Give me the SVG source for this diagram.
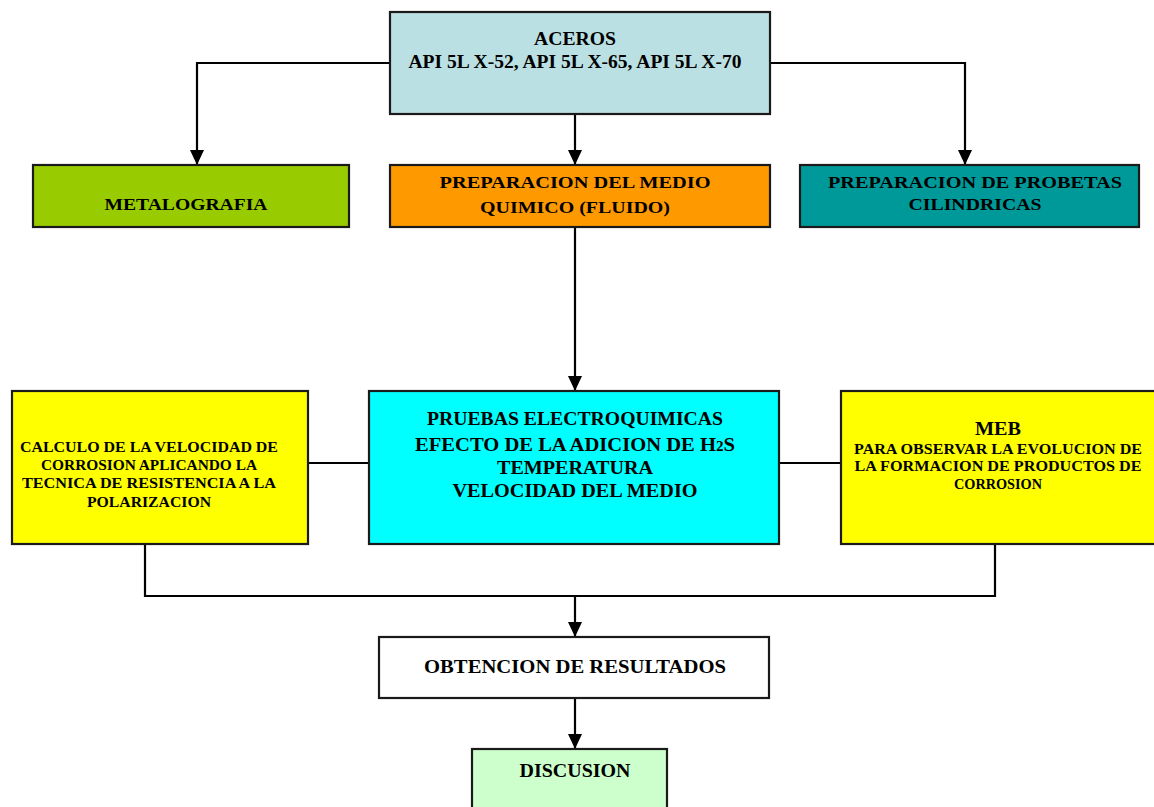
<svg xmlns="http://www.w3.org/2000/svg" width="1154" height="807" viewBox="0 0 1154 807">
<defs>
<marker id="arr" viewBox="0 0 15 14" refX="15" refY="7" markerWidth="15" markerHeight="14" markerUnits="userSpaceOnUse" orient="auto">
<path d="M0,0 L15,7 L0,14 Z" fill="#000"/>
</marker>
<style>
.box{stroke:#1a1a1a;stroke-width:2.2}
.t{font-family:"Liberation Serif","Times New Roman",serif;font-weight:bold;fill:#000;text-anchor:middle}
.ln{fill:none;stroke:#000;stroke-width:2.2}
</style>
</defs>
<rect width="1154" height="807" fill="#fff"/>
<g id="connectors">
<path class="ln" d="M390,63 H197 V165" marker-end="url(#arr)"/>
<path class="ln" d="M770,63 H965 V165" marker-end="url(#arr)"/>
<path class="ln" d="M575,114 V165" marker-end="url(#arr)"/>
<path class="ln" d="M575,227 V391" marker-end="url(#arr)"/>
<path class="ln" d="M308,463 H369"/>
<path class="ln" d="M779,463 H841"/>
<path class="ln" d="M145,544 V596 H995 V544"/>
<path class="ln" d="M575,596 V637" marker-end="url(#arr)"/>
<path class="ln" d="M575,698 V749" marker-end="url(#arr)"/>
</g>
<g id="aceros">
<rect class="box" x="390" y="12" width="380" height="102" fill="#BBE0E3"/>
<text class="t" x="575" y="45" font-size="19" textLength="82" lengthAdjust="spacingAndGlyphs">ACEROS</text>
<text class="t" x="575" y="68" font-size="19" textLength="333" lengthAdjust="spacingAndGlyphs">API 5L X-52, API 5L X-65, API 5L X-70</text>
</g>
<g id="metalografia">
<rect class="box" x="33" y="165" width="316" height="62" fill="#99CC00"/>
<text class="t" x="186" y="210" font-size="17.5" textLength="163" lengthAdjust="spacingAndGlyphs">METALOGRAFIA</text>
</g>
<g id="medio">
<rect class="box" x="390" y="165" width="380" height="62" fill="#FF9900"/>
<text class="t" x="575" y="188" font-size="17.5" textLength="271" lengthAdjust="spacingAndGlyphs">PREPARACION DEL MEDIO</text>
<text class="t" x="575" y="213" font-size="17.5" textLength="190" lengthAdjust="spacingAndGlyphs">QUIMICO (FLUIDO)</text>
</g>
<g id="probetas">
<rect class="box" x="800" y="165" width="339" height="62" fill="#009999"/>
<text class="t" x="975" y="188" font-size="17.5" textLength="294" lengthAdjust="spacingAndGlyphs">PREPARACION DE PROBETAS</text>
<text class="t" x="975" y="210" font-size="17.5" textLength="133" lengthAdjust="spacingAndGlyphs">CILINDRICAS</text>
</g>
<g id="calculo">
<rect class="box" x="12" y="391" width="296" height="153" fill="#FFFF00"/>
<text class="t" x="149" y="452" font-size="15" textLength="258" lengthAdjust="spacingAndGlyphs">CALCULO DE LA VELOCIDAD DE</text>
<text class="t" x="149" y="470" font-size="15" textLength="216" lengthAdjust="spacingAndGlyphs">CORROSION APLICANDO LA</text>
<text class="t" x="149" y="488" font-size="15" textLength="254" lengthAdjust="spacingAndGlyphs">TECNICA DE RESISTENCIA A LA</text>
<text class="t" x="149" y="507" font-size="15" textLength="124" lengthAdjust="spacingAndGlyphs">POLARIZACION</text>
</g>
<g id="pruebas">
<rect class="box" x="369" y="391" width="410" height="153" fill="#00FFFF"/>
<text class="t" x="575" y="425" font-size="19" textLength="296" lengthAdjust="spacingAndGlyphs">PRUEBAS ELECTROQUIMICAS</text>
<text class="t" x="575" y="451" font-size="19" textLength="320" lengthAdjust="spacingAndGlyphs">EFECTO DE LA ADICION DE H<tspan font-size="14">2</tspan>S</text>
<text class="t" x="575" y="474" font-size="19" textLength="156" lengthAdjust="spacingAndGlyphs">TEMPERATURA</text>
<text class="t" x="575" y="497" font-size="19" textLength="245" lengthAdjust="spacingAndGlyphs">VELOCIDAD DEL MEDIO</text>
</g>
<g id="meb">
<rect class="box" x="841" y="391" width="320" height="153" fill="#FFFF00"/>
<text class="t" x="998" y="435" font-size="19" textLength="46" lengthAdjust="spacingAndGlyphs">MEB</text>
<text class="t" x="998" y="454" font-size="15" textLength="288" lengthAdjust="spacingAndGlyphs">PARA OBSERVAR LA EVOLUCION DE</text>
<text class="t" x="998" y="471" font-size="15" textLength="287" lengthAdjust="spacingAndGlyphs">LA FORMACION DE PRODUCTOS DE</text>
<text class="t" x="998" y="489" font-size="15" textLength="88" lengthAdjust="spacingAndGlyphs">CORROSION</text>
</g>
<g id="resultados">
<rect class="box" x="379" y="637" width="390" height="61" fill="#FFFFFF"/>
<text class="t" x="575" y="673" font-size="18" textLength="302" lengthAdjust="spacingAndGlyphs">OBTENCION DE RESULTADOS</text>
</g>
<g id="discusion">
<rect class="box" x="472" y="749" width="195" height="70" fill="#CCFFCC"/>
<text class="t" x="575" y="777" font-size="18" textLength="111" lengthAdjust="spacingAndGlyphs">DISCUSION</text>
</g>
</svg>
